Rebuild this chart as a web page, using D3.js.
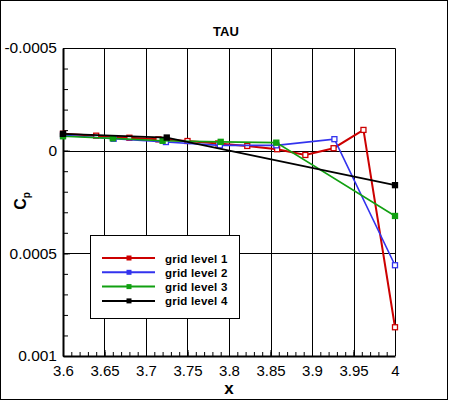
<!DOCTYPE html>
<html lang="en">
<head>
    <meta charset="UTF-8">
    <title>TAU Cp</title>
    <script src="https://cdnjs.cloudflare.com/ajax/libs/d3/7.8.5/d3.min.js"></script>
    <style>
        body { margin: 0; background: #fff; }
        svg { display: block; font-family: Arial, "Liberation Sans", sans-serif; }
    </style>
</head>
<body>
    <svg id="chart" width="450" height="401"></svg>

    <script>
        // Data
        const xGrid1 = [3.6, 3.64, 3.68, 3.715, 3.75, 3.787, 3.822, 3.858, 3.892, 3.926, 3.962, 4.0];
        const cpGrid1 = [-0.000082, -0.000073, -0.000063, -0.000055, -0.000047, -0.000035, -0.000023, -0.000007, 0.000021, -0.000012, -0.000101, 0.00086];

        const xGrid2 = [3.6, 3.661, 3.724, 3.789, 3.857, 3.927, 4.0];
        const cpGrid2 = [-0.000075, -0.000058, -0.000042, -0.000026, -0.000026, -0.000056, 0.000558];

        const xGrid3 = [3.6, 3.66, 3.72, 3.79, 3.857, 4.0];
        const cpGrid3 = [-0.00007, -0.00006, -0.000048, -0.000043, -0.000039, 0.000318];

        const xGrid4 = [3.6, 3.725, 4.0];
        const cpGrid4 = [-0.000082, -0.000064, 0.000168];

        const seriesNames = ["grid level 1", "grid level 2", "grid level 3", "grid level 4"];
        const seriesColors = ["#cc0000", "#3333ee", "#11a011", "#000000"];

        const xTicks = [3.6, 3.65, 3.7, 3.75, 3.8, 3.85, 3.9, 3.95, 4];
        const yTicks = [-0.0005, 0, 0.0005, 0.001];
        const yTickLabels = ["-0.0005", "0", "0.0005", "0.001"];

        const series = [
            { name: seriesNames[0], color: seriesColors[0], xs: xGrid1, ys: cpGrid1, width: 2, hollow: true },
            { name: seriesNames[1], color: seriesColors[1], xs: xGrid2, ys: cpGrid2, width: 1.6, hollow: true },
            { name: seriesNames[2], color: seriesColors[2], xs: xGrid3, ys: cpGrid3, width: 1.6, hollow: false },
            { name: seriesNames[3], color: seriesColors[3], xs: xGrid4, ys: cpGrid4, width: 1.8, hollow: false }
        ];

        const svg = d3.select("#chart");
        const plotLeft = 63, plotRight = 395, plotTop = 48, plotBottom = 356;

        const x = d3.scaleLinear().domain([3.6, 4]).range([plotLeft, plotRight]);
        const y = d3.scaleLinear().domain([-0.0005, 0.001]).range([plotTop, plotBottom]);

        // outer frame
        svg.append("rect")
            .attr("x", 0.5).attr("y", 0.5)
            .attr("width", 447).attr("height", 399)
            .attr("fill", "none").attr("stroke", "#000").attr("stroke-width", 1);

        // title
        svg.append("text")
            .attr("x", 226).attr("y", 36)
            .attr("text-anchor", "middle")
            .attr("font-size", 13).attr("font-weight", "bold")
            .text("TAU");

        // grid lines
        const grid = svg.append("g").attr("stroke", "#000").attr("stroke-width", 1);
        grid.selectAll("line.vx")
            .data(xTicks.slice(1, -1))
            .enter().append("line")
            .attr("x1", d => Math.round(x(d)) + 0.5).attr("x2", d => Math.round(x(d)) + 0.5)
            .attr("y1", plotTop).attr("y2", plotBottom);
        grid.selectAll("line.hy")
            .data(yTicks.slice(1, -1))
            .enter().append("line")
            .attr("y1", d => Math.round(y(d)) + 0.5).attr("y2", d => Math.round(y(d)) + 0.5)
            .attr("x1", plotLeft).attr("x2", plotRight);

        // top and right frame
        svg.append("path")
            .attr("d", `M${plotLeft},${plotTop + 0.5}H${plotRight + 0.5}V${plotBottom}`)
            .attr("fill", "none").attr("stroke", "#000").attr("stroke-width", 1);

        // bottom axis
        const xAxis = d3.axisBottom(x)
            .tickValues(xTicks)
            .tickFormat(d => d3.format("")(+d.toFixed(2)))
            .tickSizeInner(-6).tickSizeOuter(0).tickPadding(9);
        const gx = svg.append("g").attr("transform", `translate(0,${plotBottom})`).call(xAxis);
        gx.select(".domain").attr("stroke-width", 2);
        gx.selectAll("text").attr("font-size", 15).attr("fill", "#000").attr("font-family", "Arial, sans-serif");

        const xMinor = d3.axisBottom(x)
            .tickValues(d3.range(0, 41).map(i => 3.6 + i * 0.01))
            .tickFormat("").tickSizeInner(-4).tickSizeOuter(0);
        const gxm = svg.append("g").attr("transform", `translate(0,${plotBottom})`).call(xMinor);
        gxm.select(".domain").remove();

        // left axis
        const yAxis = d3.axisLeft(y)
            .tickValues(yTicks)
            .tickFormat((d, i) => yTickLabels[i])
            .tickSizeInner(-7).tickSizeOuter(0);
        const gy = svg.append("g").attr("transform", `translate(${plotLeft},0)`).call(yAxis);
        gy.select(".domain").attr("stroke-width", 2);
        gy.selectAll("text").attr("font-size", 15.5).attr("fill", "#000")
            .attr("font-family", "Arial, sans-serif").attr("x", -6);

        const yMinor = d3.axisLeft(y)
            .tickValues(d3.range(0, 16).map(i => -0.0005 + i * 0.0001))
            .tickFormat("").tickSizeInner(-5).tickSizeOuter(0);
        const gym = svg.append("g").attr("transform", `translate(${plotLeft},0)`).call(yMinor);
        gym.select(".domain").remove();

        // axis titles
        svg.append("text")
            .attr("x", 229).attr("y", 394)
            .attr("text-anchor", "middle")
            .attr("font-size", 17).attr("font-weight", "bold")
            .text("x");

        const cp = svg.append("text")
            .attr("transform", "translate(26,201) rotate(-90)")
            .attr("text-anchor", "middle")
            .attr("font-size", 16).attr("font-weight", "bold");
        cp.append("tspan").text("C");
        cp.append("tspan").attr("font-size", 10).attr("dy", 4).text("p");

        // series
        const line = d3.line().x(d => x(d[0])).y(d => y(d[1]));
        const plot = svg.append("g");
        series.forEach(s => {
            const pts = s.xs.map((v, i) => [v, s.ys[i]]);
            plot.append("path")
                .datum(pts)
                .attr("d", line)
                .attr("fill", "none")
                .attr("stroke", s.color)
                .attr("stroke-width", s.width);
            plot.selectAll(null)
                .data(pts)
                .enter().append("rect")
                .attr("x", d => x(d[0]) - 2.5).attr("y", d => y(d[1]) - 2.5)
                .attr("width", 5).attr("height", 5)
                .attr("fill", s.hollow ? "#fff" : s.color)
                .attr("stroke", s.color).attr("stroke-width", 1.3);
        });

        // legend
        const legend = svg.append("g");
        legend.append("rect")
            .attr("x", 90.5).attr("y", 235.5)
            .attr("width", 149).attr("height", 83)
            .attr("fill", "#fff").attr("stroke", "#000").attr("stroke-width", 1);
        series.forEach((s, i) => {
            const ly = 258 + i * 14.3;
            legend.append("line")
                .attr("x1", 102).attr("x2", 155)
                .attr("y1", ly).attr("y2", ly)
                .attr("stroke", s.color).attr("stroke-width", 2);
            legend.append("rect")
                .attr("x", 126.5).attr("y", ly - 2.5)
                .attr("width", 5).attr("height", 5)
                .attr("fill", s.color);
            legend.append("text")
                .attr("x", 165).attr("y", ly + 4.5)
                .attr("font-size", 11.5).attr("font-weight", "bold")
                .attr("letter-spacing", 0.2)
                .text(s.name);
        });
    </script>
</body>
</html>
